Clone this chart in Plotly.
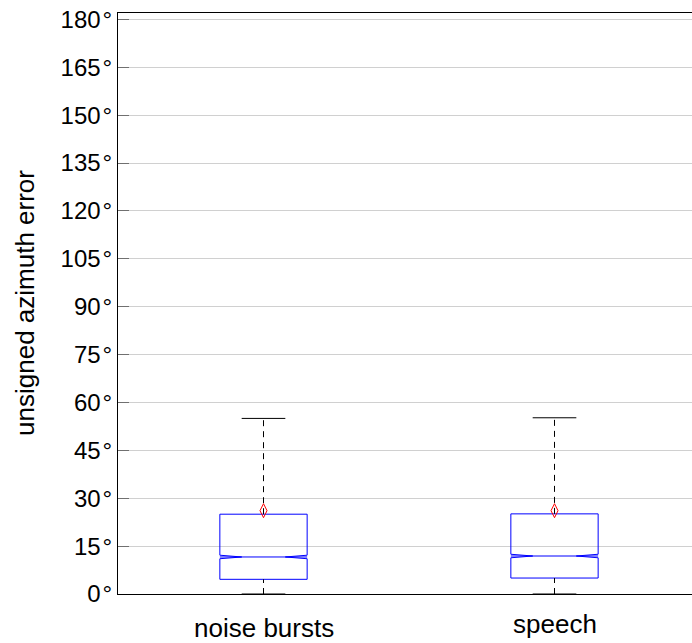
import plotly.graph_objects as go

# Azimuth error summary statistics (degrees) per stimulus type
categories = ["noise bursts", "speech"]
q1 = [4.6, 5.0]
median = [11.6, 11.9]
q3 = [25.0, 25.1]
whisker_lo = [0.0, 0.0]
whisker_hi = [55.0, 55.2]
mean = [26.1, 26.1]
notch = [0.55, 0.55]

y_ticks = list(range(0, 181, 15))
y_tick_text = [f"{v}\u200a°" for v in y_ticks]

FONT = "Liberation Sans, Arial, Helvetica, sans-serif"
BOX_HALF = 0.15
NOTCH_HALF = 0.075
CAP_HALF = 0.075

fig = go.Figure()

for i, name in enumerate(categories):
    c = i + 1
    # notched box outline
    bx = [c - BOX_HALF, c - BOX_HALF, c - NOTCH_HALF, c - BOX_HALF, c - BOX_HALF,
          c + BOX_HALF, c + BOX_HALF, c + NOTCH_HALF, c + BOX_HALF, c + BOX_HALF,
          c - BOX_HALF]
    by = [q1[i], median[i] - notch[i], median[i], median[i] + notch[i], q3[i],
          q3[i], median[i] + notch[i], median[i], median[i] - notch[i], q1[i],
          q1[i]]
    fig.add_trace(go.Scatter(x=bx, y=by, mode="lines",
                             line=dict(color="#0000ff", width=1),
                             hoverinfo="skip", cliponaxis=False))
    # median line
    fig.add_trace(go.Scatter(x=[c - BOX_HALF, c + BOX_HALF], y=[median[i], median[i]],
                             mode="lines", line=dict(color="#0000ff", width=1),
                             hoverinfo="skip", cliponaxis=False))
    # dashed whiskers
    fig.add_trace(go.Scatter(x=[c, c], y=[q3[i], whisker_hi[i]], mode="lines",
                             line=dict(color="#000000", width=1, dash="6px,5px"),
                             hoverinfo="skip", cliponaxis=False))
    fig.add_trace(go.Scatter(x=[c, c], y=[whisker_lo[i], q1[i]], mode="lines",
                             line=dict(color="#000000", width=1, dash="6px,5px"),
                             hoverinfo="skip", cliponaxis=False))
    # whisker caps
    for w in (whisker_hi[i], whisker_lo[i]):
        fig.add_trace(go.Scatter(x=[c - CAP_HALF, c + CAP_HALF], y=[w, w], mode="lines",
                                 line=dict(color="#000000", width=1),
                                 hoverinfo="skip", cliponaxis=False))
    # mean marker
    fig.add_trace(go.Scatter(x=[c], y=[mean[i]], mode="markers",
                             marker=dict(symbol="diamond-tall-open", size=10,
                                         color="#ff0000", line=dict(width=1, color="#ff0000")),
                             hoverinfo="skip", cliponaxis=False))

# category labels beneath the axis
label_y = [-0.059, -0.051]
for i, name in enumerate(categories):
    fig.add_annotation(x=i + 1, y=label_y[i], xref="x", yref="paper",
                       text=name, showarrow=False, xanchor="center", yanchor="middle",
                       font=dict(family=FONT, size=26, color="#000000"))

fig.add_annotation(x=-0.1630, y=0.5017, xref="paper", yref="paper",
                   text="unsigned azimuth error", textangle=-90, showarrow=False,
                   xanchor="center", yanchor="middle",
                   font=dict(family=FONT, size=26, color="#000000"))

fig.update_layout(
    width=692, height=643,
    margin=dict(l=118, r=0, t=13, b=49, pad=0),
    paper_bgcolor="white", plot_bgcolor="white",
    showlegend=False,
    font=dict(family=FONT, color="#000000"),
    xaxis=dict(range=[0.5, 2.4725], showticklabels=False, ticks="",
               showgrid=False, zeroline=False, showline=True,
               linecolor="#000000", linewidth=1, mirror=True),
    yaxis=dict(range=[0, 182], tickvals=y_ticks, ticktext=y_tick_text,
               ticks="inside", ticklen=11, tickwidth=1, tickcolor="#707070",
               showgrid=True, gridcolor="#d0d0d0", gridwidth=1,
               zeroline=False, showline=True, linecolor="#000000", linewidth=1,
               tickfont=dict(family=FONT, size=24, color="#000000"),
               ticklabelstandoff=0),
)

fig.write_html("out.html")
